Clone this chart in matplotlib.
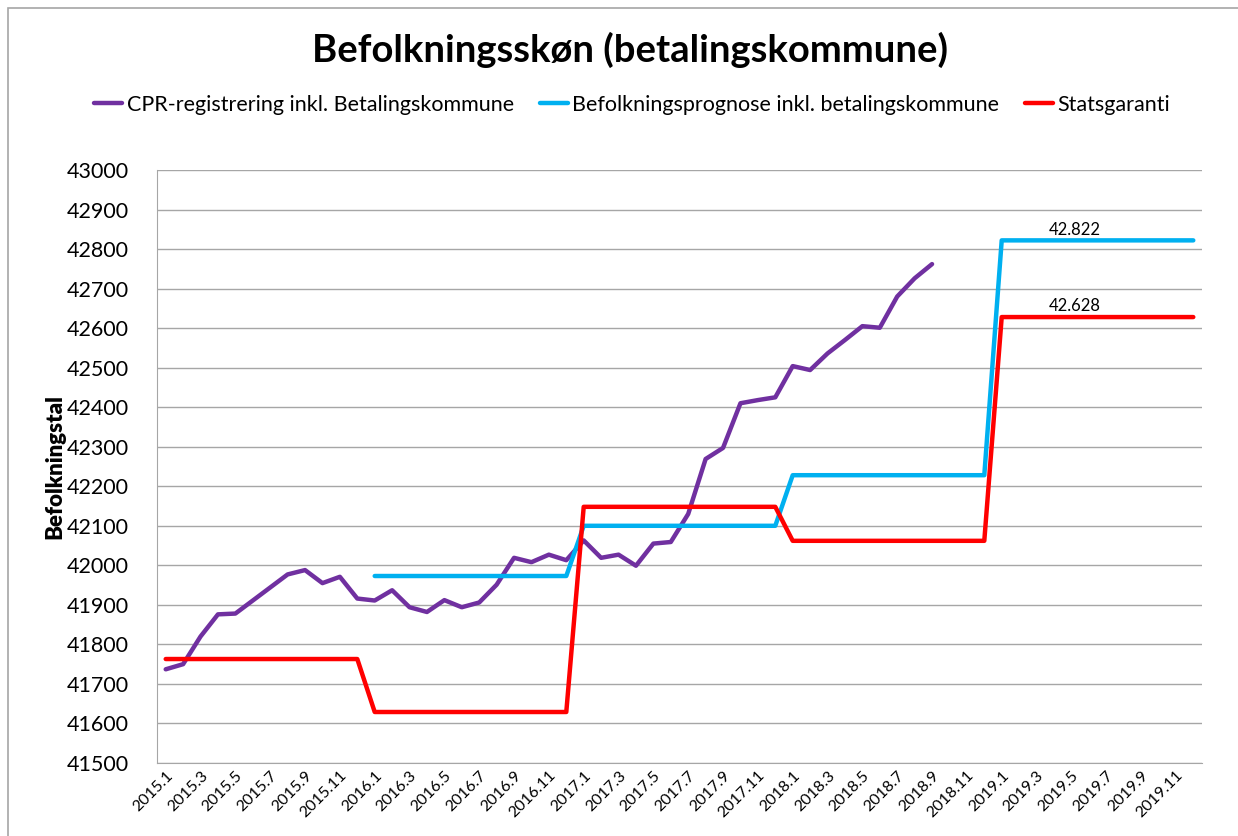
import numpy as np
import matplotlib.pyplot as plt
from matplotlib.patches import Rectangle

plt.rcParams['font.family'] = ['Lato', 'DejaVu Sans']

# months 2015.1 .. 2019.12
months = [f'{y}.{m}' for y in range(2015, 2020) for m in range(1, 13)]

cpr = [41737, 41750, 41820, 41876, 41878, 41911, 41944, 41977, 41988, 41955,
       41971, 41916, 41911, 41937, 41894, 41882, 41912, 41894, 41906, 41951,
       42019, 42008, 42027, 42013, 42063, 42019, 42027, 41999, 42055, 42059,
       42130, 42269, 42297, 42410, 42418, 42425, 42504, 42494, 42536, 42570,
       42605, 42601, 42680, 42726, 42762]

prognose = [np.nan] * 12 + [41973] * 12 + [42100] * 12 + [42228] * 12 + [42822] * 12

statsgaranti = [41763] * 12 + [41629] * 12 + [42148] * 12 + [42062] * 12 + [42628] * 12

labels = ['CPR-registrering inkl. Betalingskommune',
          'Befolkningsprognose inkl. betalingskommune',
          'Statsgaranti']

x = np.arange(len(months))

fig = plt.figure(figsize=(12.38, 8.36), dpi=100)
ax = fig.add_axes([157 / 1238, 1 - 763 / 836, (1202 - 157) / 1238, (763 - 170) / 836])

# outer chart frame
fig.patches.append(Rectangle((8 / 1238, -0.1), 1.2, (836 - 8) / 836 + 0.1,
                             transform=fig.transFigure, fill=False,
                             edgecolor='#A6A6A6', linewidth=1.2))

ax.plot(x[:len(cpr)], cpr, color='#7030A0', lw=3.2, label=labels[0], solid_capstyle='round')
ax.plot(x, prognose, color='#00B0F0', lw=3.2, label=labels[1], solid_capstyle='round')
ax.plot(x, statsgaranti, color='#FF0000', lw=3.2, label=labels[2], solid_capstyle='round')

ax.annotate('42.822', (52.2, prognose[52]), xytext=(0, 2), textcoords='offset points',
            ha='center', va='bottom', fontsize=12)
ax.annotate('42.628', (52.2, statsgaranti[52]), xytext=(0, 2), textcoords='offset points',
            ha='center', va='bottom', fontsize=12)

ax.set_xlim(-0.5, len(months) - 0.5)
ax.set_ylim(41500, 43000)
ax.set_yticks(np.arange(41500, 43001, 100))
ax.tick_params(axis='y', labelsize=15.5, length=0, pad=20)
ax.set_xticks(x[::2])
ax.set_xticklabels(months[::2], rotation=45, ha='right', rotation_mode='anchor', fontsize=11.5)
ax.tick_params(axis='x', length=0, pad=4)

ax.grid(axis='y', color='#A6A6A6', lw=1)
ax.set_axisbelow(True)
for s in ['top', 'right']:
    ax.spines[s].set_visible(False)
ax.spines['left'].set_color('#A6A6A6')
ax.spines['bottom'].set_color('#A6A6A6')

ax.set_ylabel('Befolkningstal', fontsize=16, fontweight='heavy', labelpad=1)

fig.text(630 / 1238, 1 - 50 / 836, 'Befolkningsskøn (betalingskommune)',
         ha='center', va='center', fontsize=27.5, fontweight='bold')
fig.legend(loc='center', bbox_to_anchor=(632 / 1238, 1 - 105 / 836), ncol=3,
           frameon=False, fontsize=15.5, handlelength=1.3, handletextpad=0.2,
           columnspacing=1.2)

fig.savefig('out.png', dpi=100)
